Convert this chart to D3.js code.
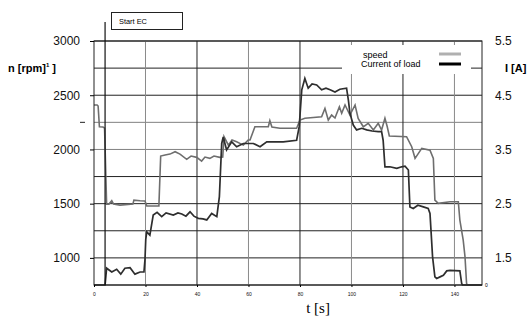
<!DOCTYPE html>
<html>
<head>
<meta charset="utf-8">
<script src="https://cdn.jsdelivr.net/npm/d3@7"></script>
<style>
  body { margin: 0; background: #fff; }
</style>
</head>
<body>
<script>
// speed n [rpm] over time t [s]
var speedData = [
  [0, 2410], [1.2, 2410], [1.6, 2400], [2.1, 2209], [3.5, 2207], [4.1, 2197],
  [4.9, 1496], [5.8, 1496], [6.9, 1527], [7.6, 1496], [10.1, 1487], [15.1, 1496],
  [15.5, 1533], [17.9, 1527], [19.8, 1524], [20.5, 1478], [25.2, 1478], [25.9, 1939],
  [27.6, 1948], [29.5, 1957], [31.5, 1979], [33.4, 1957], [36, 1909], [37.7, 1939],
  [39.9, 1927], [41.8, 1893], [43.1, 1930], [45, 1918], [46.6, 1939], [48.9, 1927],
  [50, 1930], [50.5, 2117], [52.2, 2040], [53.6, 2087], [55.4, 2071], [58, 2040],
  [59.9, 2087], [60.6, 2087], [62.5, 2209], [65.2, 2209], [67.7, 2209], [68.3, 2265],
  [69.1, 2207], [72.2, 2195], [78.7, 2195], [80, 2271], [81.9, 2287], [88.4, 2302],
  [89.7, 2379], [91, 2271], [92.3, 2317], [93.6, 2290], [95.3, 2394], [96.2, 2333],
  [97.5, 2410], [99.4, 2317], [101.4, 2410], [102.6, 2287], [104.6, 2209], [106.5, 2241],
  [108.5, 2179], [110.4, 2241], [111.7, 2179], [113, 2287], [113.9, 2209], [114.7, 2124],
  [121.4, 2117], [123.4, 2025], [124.7, 1918], [126, 1964], [127.3, 2010], [130.5, 1994],
  [131.8, 1918], [132.4, 1533], [133.7, 1503], [138.3, 1518], [141.5, 1518], [142.1, 1349],
  [143.4, 1164], [144.1, 1010], [144.7, 765], [145, 750], [150.7, 750]
];

// current of load I [A] over time t [s]
var currentData = [
  [0, 1.0], [4.3, 1.0], [4.9, 1.31], [6.9, 1.24], [8.8, 1.29], [10.4, 1.20],
  [12, 1.31], [14, 1.32], [15.9, 1.20], [17.9, 1.24], [19.4, 1.24], [19.8, 1.47],
  [20.1, 1.84], [20.5, 1.98], [21.7, 1.92], [23, 2.29], [24.5, 2.34], [26.3, 2.26],
  [28, 2.33], [30.8, 2.29], [32.6, 2.33], [34.1, 2.31], [35.7, 2.27], [37.3, 2.35],
  [38.8, 2.27], [40.5, 2.23], [42.3, 2.22], [43.8, 2.20], [45.7, 2.32], [47.7, 2.26],
  [48.7, 2.63], [49.6, 3.61], [50.2, 3.73], [51.5, 3.49], [53.5, 3.64], [55.4, 3.55],
  [58, 3.61], [61.9, 3.61], [64.5, 3.55], [67.1, 3.64], [70.3, 3.64], [73.5, 3.64],
  [78.7, 3.67], [79.7, 3.92], [80.7, 4.60], [81.9, 4.81], [83.2, 4.63], [84.7, 4.71],
  [86.5, 4.69], [88.4, 4.60], [90.1, 4.63], [91.7, 4.60], [93.6, 4.56], [95.5, 4.61],
  [98.1, 4.63], [98.8, 4.41], [99.4, 4.17], [100.7, 3.95], [102, 3.86], [104, 3.89],
  [105.9, 3.86], [108, 3.84], [110.4, 3.83], [111.7, 3.83], [112.3, 3.67], [113, 3.18],
  [114.9, 3.18], [117.6, 3.15], [119.5, 3.18], [120.8, 3.19], [122.1, 3.12], [122.7, 2.44],
  [124, 2.41], [125.8, 2.47], [127.9, 2.44], [129.8, 2.41], [130.5, 2.32], [131.5, 1.52],
  [132.4, 1.15], [133.1, 1.12], [134.4, 1.15], [135.7, 1.18], [137, 1.26], [138.3, 1.27],
  [142.1, 1.26], [142.8, 1.03], [143.1, 1.0], [150.7, 1.0]
];

var timeTicks = [0, 20, 40, 60, 80, 100, 120, 140],
    speedTicks = [1000, 1500, 2000, 2500, 3000],
    currentTicks = [1.5, 2.5, 3.5, 4.5, 5.5],
    gridSpeed = d3.range(750, 3001, 250),
    startEC = 4.3;

var width = 531,
    height = 320,
    sans = 'Arial, "Liberation Sans", sans-serif',
    serif = '"Liberation Serif", "Times New Roman", serif';

var svg = d3.select('body')
    .append('svg')
    .attr('width', width)
    .attr('height', height)
    .style('font-family', sans);

var x = d3.scaleLinear().domain([0, 150.7]).range([94, 482]),
    yN = d3.scaleLinear().domain([750, 3000]).range([285, 41]),
    yI = d3.scaleLinear().domain([1.0, 5.5]).range([285, 41]);

// horizontal grid
svg.append('g')
  .selectAll('line')
  .data(gridSpeed)
  .enter()
  .append('line')
  .attr('x1', x(0))
  .attr('x2', x(150.7))
  .attr('y1', d => yN(d))
  .attr('y2', d => yN(d))
  .attr('stroke', d => (d == 2250 || d == 2000) ? '#808080' : '#222')
  .attr('stroke-width', 1);

// vertical grid
svg.append('g')
  .selectAll('line')
  .data(timeTicks.slice(1))
  .enter()
  .append('line')
  .attr('x1', d => x(d))
  .attr('x2', d => x(d))
  .attr('y1', yN(3000))
  .attr('y2', yN(750))
  .attr('stroke', d => (d % 40 == 20) ? '#8a8a8a' : '#222')
  .attr('stroke-width', 1);

// white legend area hides part of grid
svg.append('rect')
  .attr('x', 342).attr('y', 45)
  .attr('width', 129).attr('height', 29)
  .attr('fill', '#fff');

var lineN = d3.line().x(d => x(d[0])).y(d => yN(d[1]));
var lineI = d3.line().x(d => x(d[0])).y(d => yI(d[1]));

svg.append('path')
  .attr('d', lineN(speedData))
  .attr('fill', 'none')
  .attr('stroke', '#6e6e6e')
  .attr('stroke-width', 1.6);

svg.append('path')
  .attr('d', lineI(currentData))
  .attr('fill', 'none')
  .attr('stroke', '#2e2e2e')
  .attr('stroke-width', 1.7);

// plot border
svg.append('rect')
  .attr('x', x(0)).attr('y', yN(3000))
  .attr('width', x(150.7) - x(0))
  .attr('height', yN(750) - yN(3000))
  .attr('fill', 'none')
  .attr('stroke', '#222')
  .attr('stroke-width', 1);

// Start EC marker
svg.append('line')
  .attr('x1', x(startEC)).attr('x2', x(startEC))
  .attr('y1', 22).attr('y2', yN(750))
  .attr('stroke', '#111')
  .attr('stroke-width', 1.2);
svg.append('rect')
  .attr('x', 111.5).attr('y', 12.5)
  .attr('width', 71).attr('height', 17)
  .attr('fill', '#fff')
  .attr('stroke', '#222');
svg.append('text')
  .attr('x', 119).attr('y', 24)
  .attr('font-size', 7.4)
  .text('Start EC');

// axes
var axL = svg.append('g')
  .attr('transform', 'translate(' + x(0) + ',0)')
  .call(d3.axisLeft(yN).tickValues(speedTicks).tickSize(4).tickPadding(10).tickFormat(d3.format('d')));
axL.select('.domain').remove();
axL.selectAll('text').attr('font-size', 12).attr('font-family', sans).attr('fill', '#111');

svg.append('line')
  .attr('x1', 80).attr('x2', 85)
  .attr('y1', yN(2250)).attr('y2', yN(2250))
  .attr('stroke', '#222');

var axR = svg.append('g')
  .attr('transform', 'translate(' + x(150.7) + ',0)')
  .call(d3.axisRight(yI).tickValues(currentTicks).tickSize(0).tickPadding(13).tickFormat(d3.format('.1f')));
axR.select('.domain').remove();
axR.selectAll('text').attr('font-size', 12).attr('font-family', sans).attr('fill', '#111');

var axB = svg.append('g')
  .attr('transform', 'translate(0,' + yN(750) + ')')
  .call(d3.axisBottom(x).tickValues(timeTicks).tickSize(2).tickPadding(5));
axB.select('.domain').remove();
axB.selectAll('text').attr('font-size', 5).attr('font-family', sans).attr('fill', '#111');

svg.append('text')
  .attr('x', 485).attr('y', 287)
  .attr('font-size', 5)
  .text('0');

// axis titles
var tN = svg.append('text')
  .attr('x', 8).attr('y', 72)
  .attr('font-size', 11)
  .attr('font-weight', 'bold')
  .text('n [rpm]');
tN.append('tspan').attr('dy', -5).attr('font-size', 6).text('1');
tN.append('tspan').attr('dy', 5).text(' ]');

svg.append('text')
  .attr('x', 505).attr('y', 72)
  .attr('font-size', 11)
  .attr('font-weight', 'bold')
  .text('I [A]');

svg.append('text')
  .attr('x', 318).attr('y', 313)
  .attr('text-anchor', 'middle')
  .attr('font-size', 15)
  .style('font-family', serif)
  .text('t [s]');

// legend
svg.append('text')
  .attr('x', 363).attr('y', 58)
  .attr('font-size', 9)
  .text('speed');
svg.append('text')
  .attr('x', 361).attr('y', 67)
  .attr('font-size', 9)
  .text('Current of load');
svg.append('line')
  .attr('x1', 439).attr('x2', 461)
  .attr('y1', 54).attr('y2', 54)
  .attr('stroke', '#b0b0b0').attr('stroke-width', 3);
svg.append('line')
  .attr('x1', 439).attr('x2', 461)
  .attr('y1', 64).attr('y2', 64)
  .attr('stroke', '#000').attr('stroke-width', 3);
</script>
</body>
</html>
